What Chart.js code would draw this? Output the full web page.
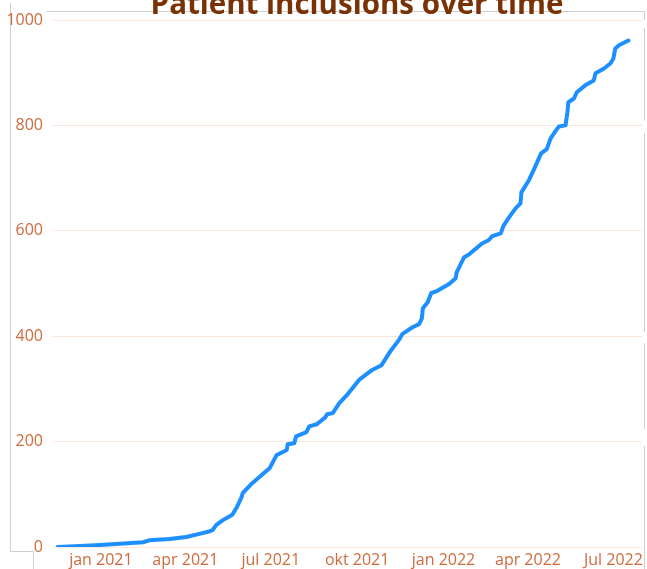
<!DOCTYPE html>
<html>
<head>
<meta charset="utf-8">
<script src="https://cdn.jsdelivr.net/npm/chart.js@4/dist/chart.umd.min.js"></script>
<style>
  html, body { margin: 0; padding: 0; background: #ffffff; }
  #wrap { width: 647px; height: 569px; position: relative; }
</style>
</head>
<body>
<div id="wrap"><canvas id="c" width="647" height="569"></canvas></div>
<script>
// ---- data ----
const titleText = "Patient inclusions over time";

const dates = [
  "2020-11-16","2020-12-10","2020-12-31","2021-01-21","2021-02-15","2021-02-22",
  "2021-03-15","2021-04-02","2021-04-16","2021-04-27","2021-04-30","2021-05-04",
  "2021-05-11","2021-05-21","2021-05-26","2021-05-31","2021-06-01","2021-06-10",
  "2021-06-21","2021-06-30","2021-07-07","2021-07-18","2021-07-19","2021-07-26",
  "2021-07-28","2021-08-08","2021-08-11","2021-08-19","2021-08-28","2021-08-30",
  "2021-09-05","2021-09-12","2021-09-20","2021-10-03","2021-10-17","2021-10-27",
  "2021-11-06","2021-11-15","2021-11-18","2021-11-29","2021-12-06","2021-12-09",
  "2021-12-10","2021-12-15","2021-12-19","2021-12-24","2022-01-07","2022-01-14",
  "2022-01-15","2022-01-23","2022-01-28","2022-02-11","2022-02-18","2022-02-22",
  "2022-03-03","2022-03-06","2022-03-12","2022-03-19","2022-03-24","2022-03-25",
  "2022-04-02","2022-04-07","2022-04-15","2022-04-21","2022-04-25","2022-05-01",
  "2022-05-04","2022-05-11","2022-05-13","2022-05-14","2022-05-20","2022-05-23",
  "2022-06-01","2022-06-10","2022-06-12","2022-06-21","2022-06-28","2022-07-01",
  "2022-07-03","2022-07-07","2022-07-17"
];

const inclusions = [
  0, 2, 4, 6, 9, 13,
  15, 19, 25, 30, 32, 42,
  51, 61, 76, 95, 102, 119,
  136, 150, 174, 184, 195, 197,
  210, 218, 229, 233, 246, 252,
  254, 273, 288, 317, 336, 345,
  373, 394, 404, 417, 423, 434,
  453, 464, 482, 485, 499, 510,
  521, 550, 555, 576, 582, 590,
  595, 610, 626, 643, 652, 673,
  696, 715, 747, 755, 775, 791,
  798, 800, 825, 844, 851, 863,
  876, 885, 899, 908, 918, 927,
  946, 952, 961
];

const tickDates  = ["2021-01-01","2021-04-01","2021-07-01","2021-10-01","2022-01-01","2022-04-01","2022-07-01"];
const tickLabels = ["jan 2021","apr 2021","jul 2021","okt 2021","jan 2022","apr 2022","Jul 2022"];
const yTicks = [0, 200, 400, 600, 800, 1000];
const xRange = ["2020-11-11", "2022-08-01"];

// ---- helpers ----
const BASE = Date.UTC(2021, 0, 1);
function dayOf(s) {
  const p = s.split("-").map(Number);
  return Math.round((Date.UTC(p[0], p[1] - 1, p[2]) - BASE) / 86400000);
}
const points = dates.map((d, i) => ({ x: dayOf(d), y: inclusions[i] }));
const tickDays = tickDates.map(dayOf);

const labelColor = "#cf6a3d";
const gridColor = "#fbe6dd";

const titlePlugin = {
  id: "cutTitle",
  afterDraw(chart) {
    const ctx = chart.ctx;
    ctx.save();
    ctx.font = 'bold 29.5px "Open Sans", "Noto Sans", sans-serif';
    ctx.fillStyle = "#7a3205";
    ctx.textAlign = "center";
    ctx.textBaseline = "alphabetic";
    ctx.fillText(titleText, 357, 14);
    ctx.restore();
  }
};

const framePlugin = {
  id: "frame",
  beforeDraw(chart) {
    const ctx = chart.ctx;
    ctx.save();
    ctx.strokeStyle = "#cfcfcf";
    ctx.lineWidth = 1;
    ctx.beginPath();
    ctx.moveTo(10.5, 3); ctx.lineTo(10.5, 551.5); ctx.lineTo(33.5, 551.5); ctx.lineTo(33.5, 569);
    ctx.moveTo(46, 11.5); ctx.lineTo(644.5, 11.5); ctx.lineTo(644.5, 20);
    ctx.moveTo(644.5, 28); ctx.lineTo(644.5, 121);
    ctx.moveTo(644.5, 133); ctx.lineTo(644.5, 332);
    ctx.moveTo(644.5, 343); ctx.lineTo(644.5, 429);
    ctx.moveTo(644.5, 446); ctx.lineTo(644.5, 569);
    ctx.stroke();
    ctx.restore();
  }
};

new Chart(document.getElementById("c"), {
  type: "line",
  data: {
    datasets: [{
      label: titleText,
      data: points,
      borderColor: "#1e8fff",
      borderWidth: 4,
      borderJoinStyle: "round",
      borderCapStyle: "round",
      pointRadius: 0,
      tension: 0,
      fill: false
    }]
  },
  options: {
    responsive: false,
    animation: false,
    devicePixelRatio: 1,
    layout: { padding: { top: 20, right: 3, left: 0, bottom: 0 } },
    plugins: {
      legend: { display: false },
      title: { display: false },
      tooltip: { enabled: false }
    },
    scales: {
      x: {
        type: "linear",
        min: dayOf(xRange[0]),
        max: dayOf(xRange[1]),
        afterBuildTicks(scale) {
          scale.ticks = tickDays.map(v => ({ value: v }));
        },
        afterFit(scale) { scale.height = 22; },
        grid: { display: false, drawTicks: false },
        border: { display: false },
        ticks: {
          autoSkip: false,
          maxRotation: 0,
          padding: 4,
          color: labelColor,
          font: { family: '"Open Sans", "Noto Sans", sans-serif', size: 16 },
          callback(value) {
            const i = tickDays.indexOf(value);
            return i >= 0 ? tickLabels[i] : "";
          }
        }
      },
      y: {
        min: 0,
        max: 1000,
        afterBuildTicks(scale) {
          scale.ticks = yTicks.map(v => ({ value: v }));
        },
        afterFit(scale) { scale.width = 53; },
        grid: { color: gridColor, lineWidth: 1, drawTicks: false },
        border: { display: false },
        ticks: {
          padding: 10,
          color: labelColor,
          font: { family: '"Open Sans", "Noto Sans", sans-serif', size: 16 },
          callback(value) { return String(value); }
        }
      }
    }
  },
  plugins: [framePlugin, titlePlugin]
});
</script>
</body>
</html>
